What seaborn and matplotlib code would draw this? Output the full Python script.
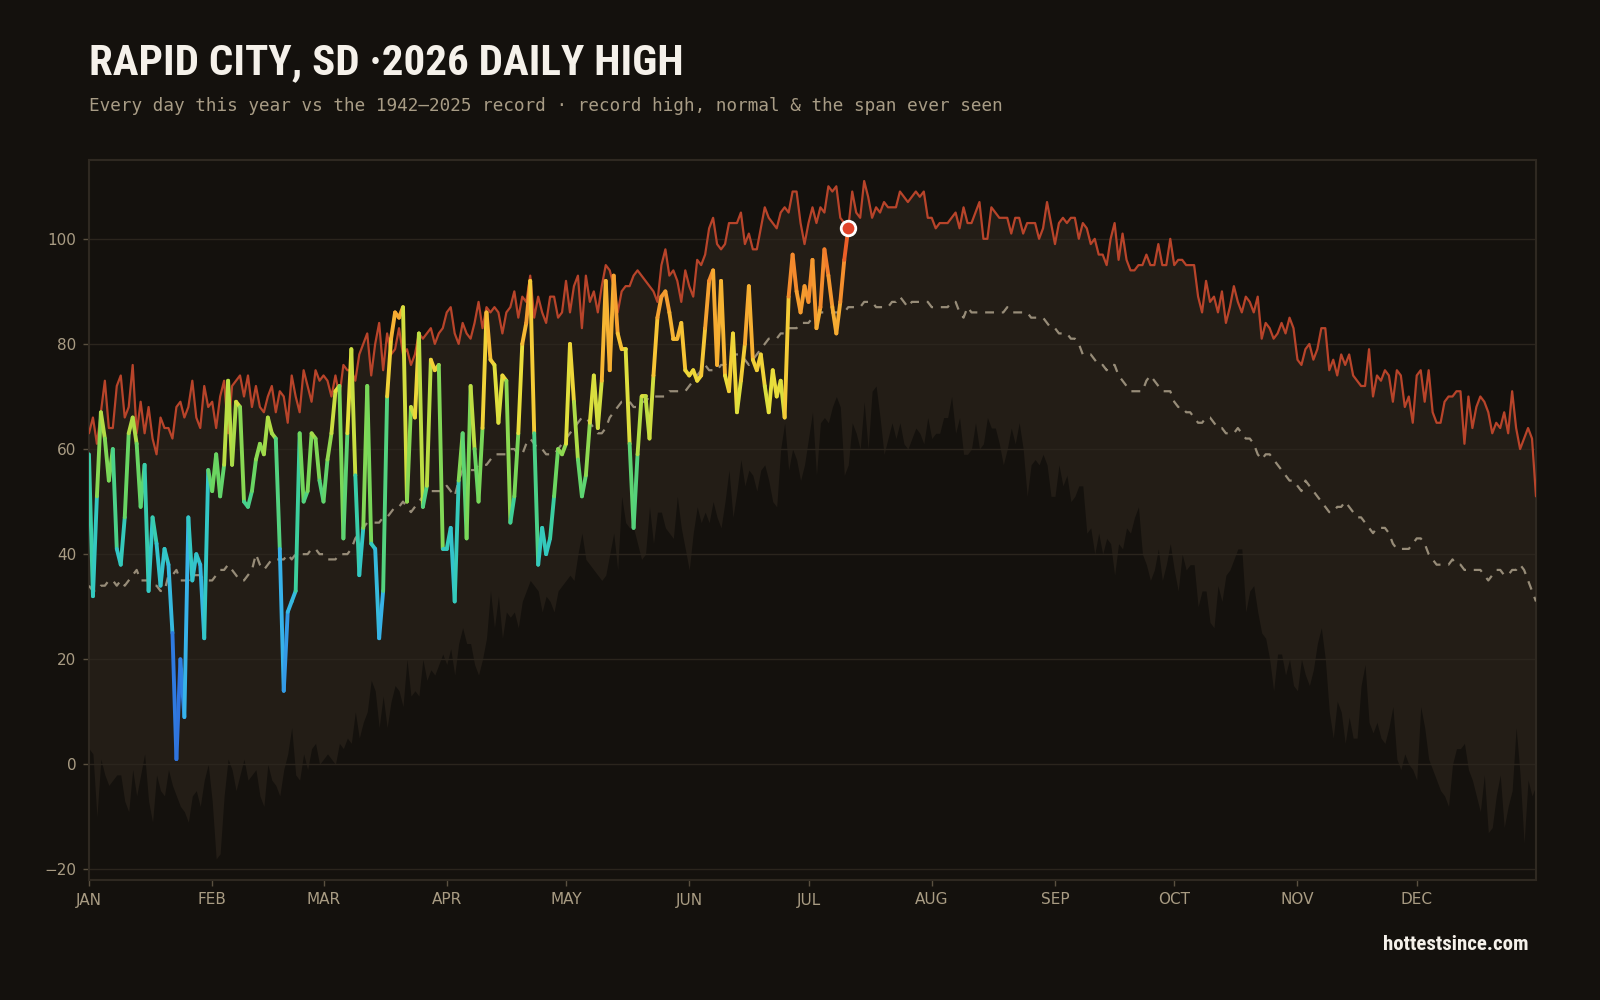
import numpy as np
import pandas as pd
import matplotlib
matplotlib.use('Agg')
import matplotlib.pyplot as plt
import seaborn as sns
from matplotlib.collections import LineCollection
from matplotlib.colors import LinearSegmentedColormap, Normalize
from matplotlib import font_manager

# --- data (deg F) ---
month_labels = ['JAN', 'FEB', 'MAR', 'APR', 'MAY', 'JUN',
                'JUL', 'AUG', 'SEP', 'OCT', 'NOV', 'DEC']
month_starts = [0, 31, 59, 90, 120, 151, 181, 212, 243, 273, 304, 334]

record_high = [
    63, 66, 61, 67, 73, 64, 64, 72, 74, 66,
    68, 76, 63, 69, 63, 68, 62, 59, 66, 64,
    64, 62, 68, 69, 66, 68, 73, 66, 64, 72,
    68, 69, 64, 70, 73, 63, 72, 73, 74, 70,
    74, 68, 72, 68, 67, 70, 72, 67, 71, 70,
    65, 74, 70, 67, 75, 72, 69, 75, 73, 74,
    73, 70, 74, 70, 76, 75, 75, 73, 78, 80,
    82, 74, 80, 84, 75, 82, 78, 79, 83, 78,
    79, 76, 78, 82, 81, 82, 83, 80, 82, 83,
    86, 87, 82, 80, 84, 82, 81, 84, 88, 83,
    87, 86, 87, 86, 82, 86, 87, 90, 85, 89,
    88, 93, 85, 89, 86, 84, 89, 89, 85, 86,
    92, 86, 91, 93, 83, 93, 88, 90, 86, 91,
    95, 94, 91, 86, 90, 91, 91, 93, 94, 93,
    92, 91, 90, 88, 95, 98, 93, 94, 92, 88,
    94, 91, 89, 96, 95, 97, 102, 104, 99, 98,
    99, 103, 103, 103, 105, 99, 101, 98, 98, 102,
    106, 104, 103, 102, 105, 106, 105, 109, 109, 103,
    99, 103, 106, 103, 106, 105, 110, 109, 110, 104,
    103, 102, 109, 105, 104, 111, 108, 104, 106, 105,
    107, 106, 106, 106, 109, 108, 107, 108, 109, 108,
    109, 104, 104, 102, 103, 103, 103, 104, 105, 102,
    106, 103, 103, 105, 107, 100, 100, 106, 105, 104,
    104, 104, 101, 104, 104, 101, 103, 103, 103, 100,
    102, 107, 103, 99, 103, 104, 103, 104, 104, 100,
    103, 102, 99, 100, 97, 97, 95, 100, 103, 96,
    101, 96, 94, 94, 95, 95, 97, 95, 95, 99,
    95, 95, 100, 95, 96, 96, 95, 95, 95, 89,
    86, 92, 88, 89, 86, 90, 84, 87, 91, 88,
    86, 89, 88, 86, 89, 81, 84, 83, 81, 82,
    84, 82, 85, 83, 77, 76, 79, 80, 77, 79,
    83, 83, 75, 77, 74, 78, 76, 78, 74, 73,
    72, 72, 79, 70, 74, 73, 75, 74, 69, 75,
    74, 68, 70, 65, 74, 75, 69, 75, 67, 65,
    65, 69, 70, 70, 71, 71, 61, 70, 64, 68,
    70, 69, 67, 63, 65, 64, 67, 63, 71, 64,
    60, 62, 64, 62, 51]

normal = [
    34, 33, 33, 34, 34, 35, 35, 34, 35, 34,
    35, 36, 37, 35, 35, 35, 34, 34, 33, 33,
    36, 36, 37, 35, 35, 35, 36, 36, 36, 35,
    35, 35, 36, 37, 37, 38, 37, 36, 35, 35,
    36, 37, 40, 38, 37, 38, 39, 39, 39, 39,
    40, 39, 40, 40, 40, 40, 41, 41, 40, 40,
    39, 39, 39, 40, 40, 40, 41, 43, 44, 45,
    46, 46, 46, 46, 47, 47, 48, 49, 49, 50,
    49, 48, 49, 50, 51, 52, 52, 52, 52, 52,
    53, 52, 51, 54, 56, 56, 56, 56, 57, 57,
    57, 58, 59, 59, 59, 59, 60, 60, 59, 59,
    61, 62, 61, 60, 60, 59, 59, 59, 60, 61,
    62, 63, 64, 65, 66, 66, 65, 64, 63, 63,
    64, 66, 67, 68, 69, 69, 69, 68, 68, 69,
    69, 70, 70, 70, 70, 70, 71, 71, 71, 71,
    71, 72, 73, 74, 75, 76, 75, 75, 75, 76,
    76, 77, 78, 78, 78, 77, 76, 77, 78, 79,
    80, 81, 81, 81, 82, 82, 83, 83, 83, 84,
    84, 84, 85, 85, 86, 86, 86, 86, 86, 86,
    86, 87, 87, 87, 87, 88, 88, 88, 87, 87,
    87, 87, 88, 88, 89, 88, 87, 88, 88, 88,
    88, 88, 87, 87, 87, 87, 87, 88, 88, 86,
    85, 87, 86, 86, 86, 86, 86, 86, 86, 86,
    86, 87, 86, 86, 86, 86, 86, 85, 85, 85,
    85, 84, 83, 83, 82, 82, 82, 81, 81, 80,
    78, 78, 78, 77, 76, 76, 75, 76, 76, 74,
    73, 72, 71, 71, 71, 71, 73, 74, 73, 72,
    71, 71, 71, 69, 68, 68, 67, 67, 66, 65,
    65, 66, 66, 65, 64, 64, 63, 63, 63, 64,
    63, 62, 62, 61, 59, 58, 59, 59, 58, 57,
    56, 55, 54, 54, 53, 52, 54, 53, 52, 51,
    50, 49, 48, 48, 49, 49, 50, 49, 48, 47,
    47, 46, 45, 44, 45, 45, 45, 44, 42, 41,
    41, 41, 41, 42, 43, 43, 42, 40, 39, 38,
    38, 38, 38, 39, 38, 38, 37, 37, 37, 37,
    37, 36, 35, 36, 37, 37, 36, 36, 37, 37,
    38, 37, 35, 33, 31]

record_low = [
    3, 2, -10, 1, -2, -4, -3, -2, -2, -7,
    -9, -1, -6, -2, 2, -7, -11, -2, -5, -6,
    -1, -4, -6, -8, -9, -11, -6, -5, -8, -3,
    0, -7, -18, -17, -6, 1, -1, -5, -2, 1,
    -3, -2, -1, -6, -8, 0, -3, -4, -6, -1,
    2, 7, -2, -3, 2, -1, 3, 4, 0, 1,
    2, 1, 0, 4, 3, 5, 4, 10, 5, 8,
    10, 16, 14, 7, 13, 7, 12, 15, 14, 11,
    20, 13, 14, 13, 20, 16, 18, 17, 19, 21,
    19, 22, 17, 23, 26, 23, 23, 19, 17, 20,
    24, 33, 26, 32, 24, 29, 28, 29, 26, 31,
    33, 35, 34, 33, 29, 32, 31, 29, 33, 34,
    35, 36, 35, 40, 44, 39, 38, 37, 36, 35,
    36, 40, 44, 37, 51, 46, 45, 45, 42, 39,
    40, 49, 42, 48, 48, 45, 44, 43, 51, 45,
    41, 37, 44, 49, 46, 48, 46, 50, 47, 45,
    50, 56, 47, 52, 58, 53, 56, 55, 52, 56,
    57, 54, 50, 49, 60, 65, 56, 60, 58, 54,
    57, 62, 67, 55, 65, 66, 65, 68, 70, 68,
    55, 57, 65, 63, 60, 69, 60, 71, 72, 66,
    59, 62, 65, 62, 65, 61, 60, 62, 64, 63,
    61, 66, 62, 63, 63, 66, 66, 70, 63, 66,
    59, 59, 60, 65, 60, 61, 66, 64, 64, 61,
    57, 60, 64, 61, 65, 60, 51, 57, 58, 57,
    59, 57, 51, 51, 57, 53, 55, 50, 51, 53,
    53, 44, 45, 40, 44, 40, 43, 42, 36, 42,
    41, 45, 44, 47, 49, 40, 38, 35, 37, 41,
    35, 38, 42, 37, 33, 40, 37, 38, 38, 30,
    33, 33, 27, 26, 34, 31, 36, 37, 39, 41,
    41, 29, 33, 34, 29, 25, 24, 20, 14, 21,
    21, 17, 20, 15, 14, 20, 17, 15, 18, 23,
    26, 20, 10, 5, 12, 10, 4, 9, 5, 5,
    15, 19, 8, 6, 8, 5, 4, 7, 11, 1,
    -1, 2, 0, -1, -3, 11, 7, 1, -1, -3,
    -5, -6, -8, 0, 3, 3, 4, -1, -3, -6,
    -9, -2, -13, -12, -6, -2, -12, -8, -5, 7,
    -2, -15, -3, -6, -4]

# 2026 daily highs, Jan 1 .. Jul 11
high_2026 = [
    59, 32, 51, 67, 62, 54, 60, 41, 38, 47,
    63, 66, 61, 49, 57, 33, 47, 42, 34, 41,
    38, 25, 1, 20, 9, 47, 35, 40, 38, 24,
    56, 52, 59, 51, 57, 73, 57, 69, 68, 50,
    49, 52, 58, 61, 59, 66, 63, 62, 41, 14,
    29, 31, 33, 63, 50, 52, 63, 62, 54, 50,
    58, 63, 71, 72, 43, 63, 79, 55, 36, 45,
    72, 42, 41, 24, 33, 70, 81, 86, 85, 87,
    50, 68, 66, 82, 49, 53, 77, 75, 76, 41,
    41, 45, 31, 54, 63, 43, 72, 60, 50, 64,
    86, 77, 76, 65, 74, 73, 46, 51, 63, 80,
    84, 92, 63, 38, 45, 40, 43, 51, 60, 59,
    61, 80, 69, 58, 51, 55, 65, 74, 64, 73,
    92, 75, 93, 82, 79, 79, 61, 45, 59, 70,
    70, 62, 74, 85, 89, 90, 86, 81, 81, 84,
    75, 74, 75, 73, 74, 83, 92, 94, 76, 92,
    74, 71, 82, 67, 73, 80, 91, 77, 75, 78,
    72, 67, 75, 70, 73, 66, 89, 97, 90, 86,
    91, 88, 96, 83, 87, 98, 93, 87, 82, 88,
    96, 102]

assert len(record_high) == 365 and len(normal) == 365 and len(record_low) == 365

# --- style ---
BG = '#14110d'
BAND = '#231d16'
GRID = '#2b251d'
SPINE = '#2f2921'
RED = '#b8442a'
NORMAL_C = '#978c78'
TICK_C = '#a99c83'

available = {f.name for f in font_manager.fontManager.ttflist}
title_font = next((f for f in ['Liberation Sans Narrow', 'Roboto Condensed', 'Roboto', 'DejaVu Sans']
                   if f in available))

sns.set_theme(style='dark', rc={
    'figure.facecolor': BG,
    'axes.facecolor': BG,
    'axes.edgecolor': SPINE,
    'text.color': TICK_C,
    'xtick.color': TICK_C,
    'ytick.color': TICK_C,
})
plt.rcParams['font.family'] = ['DejaVu Sans']

fig = plt.figure(figsize=(16, 10), dpi=100)
ax = fig.add_axes([0.0556, 0.12, 0.9044, 0.72])

days = np.arange(len(record_high))
df = pd.DataFrame({'day': days, 'record_high': record_high,
                   'normal': normal, 'record_low': record_low})

# span ever seen
ax.fill_between(df['day'], df['record_low'], df['record_high'], color=BAND, lw=0, zorder=1)
for y in range(-20, 101, 20):
    ax.axhline(y, color=GRID, lw=1, zorder=1.5)

sns.lineplot(data=df, x='day', y='record_high', color=RED, lw=1.6, ax=ax, zorder=3)
sns.lineplot(data=df, x='day', y='normal', color=NORMAL_C, lw=1.6,
             linestyle=(0, (4, 3.5)), ax=ax, zorder=3)

# 2026 line, each day-to-day step coloured by its mean temperature
cmap = LinearSegmentedColormap.from_list('temp', [
    (0.00, '#2f5fd6'), (0.12, '#2f78e0'), (0.27, '#37b2ea'), (0.40, '#33c8c4'),
    (0.47, '#3ccf9c'), (0.55, '#6fd65c'), (0.63, '#b2dc45'), (0.70, '#e9e03c'),
    (0.78, '#f7c435'), (0.86, '#f5a030'), (0.93, '#f3842c'), (1.00, '#e64526')])
norm = Normalize(vmin=0, vmax=102)
d26 = np.arange(len(high_2026))
pts = np.column_stack([d26, high_2026])
segs = np.stack([pts[:-1], pts[1:]], axis=1)
mids = (np.array(high_2026[:-1]) + np.array(high_2026[1:])) / 2
lc = LineCollection(segs, colors=cmap(norm(mids)), linewidths=2.8,
                    capstyle='round', joinstyle='round', zorder=4)
ax.add_collection(lc)
ax.scatter([d26[-1]], [high_2026[-1]], s=110, color='#e0432a', edgecolor='white',
           linewidth=2, zorder=5)

ax.set_xlim(0, 364)
ax.set_ylim(-22, 115)
ax.set_xticks(month_starts, month_labels)
ax.set_yticks(range(-20, 101, 20))
ax.set_xlabel('')
ax.set_ylabel('')
ax.grid(False)
ax.tick_params(axis='both', labelsize=11, length=4, width=1, color='#5a5040',
               labelcolor=TICK_C, pad=5)
ax.tick_params(axis='x', bottom=True)
ax.tick_params(axis='y', left=True)
for s in ax.spines.values():
    s.set_visible(True)
    s.set_color(SPINE)
    s.set_linewidth(1.5)

fig.text(0.0556, 0.937, 'RAPID CITY, SD \u00b72026 DAILY HIGH', ha='left', va='center',
         fontsize=31, fontweight='bold', color='#f5f1ea', family=title_font)
fig.text(0.0556, 0.894,
         'Every day this year vs the 1942\u20132025 record \u00b7 record high, normal & the span ever seen',
         ha='left', va='center', fontsize=12.7, color='#a89c85', family='DejaVu Sans Mono')
fig.text(0.955, 0.056, 'hottestsince.com', ha='right', va='center',
         fontsize=15, fontweight='bold', color='#f5f1ea', family=title_font)

fig.savefig('out.png', dpi=100, facecolor=BG)
